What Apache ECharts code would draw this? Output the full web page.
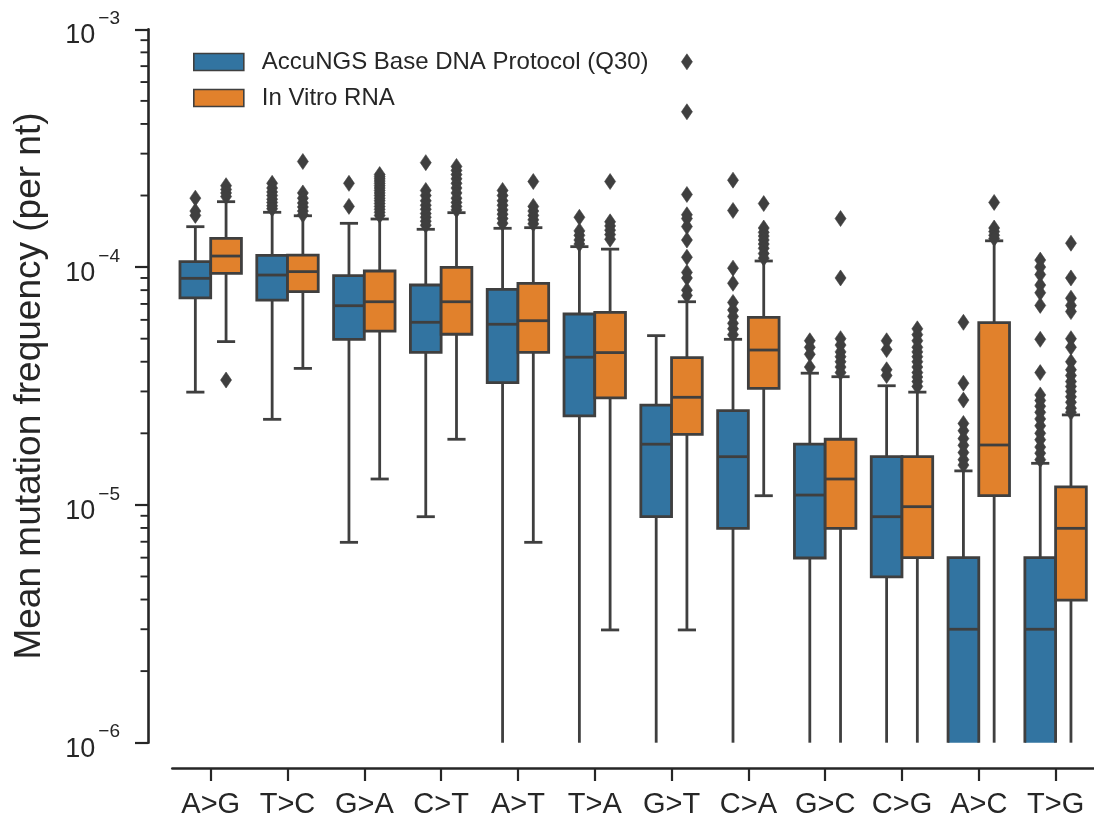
<!DOCTYPE html>
<html>
<head>
<meta charset="utf-8">
<script src="https://cdn.jsdelivr.net/npm/echarts@6/dist/echarts.min.js"></script>
<style>
html,body{margin:0;padding:0;background:#fff;}
#chart{width:1094px;height:822px;}
</style>
</head>
<body>
<div id="chart"></div>
<script>
// ---------- data ----------
const categories = ['A>G','T>C','G>A','C>T','A>T','T>A','G>T','C>A','G>C','C>G','A>C','T>G'];
const seriesNames = ['AccuNGS Base DNA Protocol (Q30)', 'In Vitro RNA'];
// [lower whisker, Q1, median, Q3, upper whisker]; 0 = below the axis (not shown on log scale)
const accuBox = [
  [2.98e-5, 7.43e-5, 8.97e-5, 1.054e-4, 1.479e-4],
  [2.29e-5, 7.27e-5, 9.26e-5, 1.121e-4, 1.70e-4],
  [6.96e-6, 4.97e-5, 6.88e-5, 9.2e-5, 1.528e-4],
  [8.92e-6, 4.38e-5, 5.86e-5, 8.41e-5, 1.442e-4],
  [0, 3.27e-5, 5.75e-5, 8.06e-5, 1.456e-4],
  [0, 2.37e-5, 4.18e-5, 6.35e-5, 1.219e-4],
  [0, 8.92e-6, 1.80e-5, 2.63e-5, 5.15e-5],
  [0, 7.97e-6, 1.595e-5, 2.49e-5, 4.97e-5],
  [0, 5.98e-6, 1.10e-5, 1.80e-5, 3.58e-5],
  [0, 4.98e-6, 8.92e-6, 1.595e-5, 3.17e-5],
  [0, 0, 3.0e-6, 6.0e-6, 1.39e-5],
  [0, 0, 3.0e-6, 6.0e-6, 1.496e-5]
];
const vitroBox = [
  [4.86e-5, 9.41e-5, 1.113e-4, 1.321e-4, 1.884e-4],
  [3.75e-5, 7.88e-5, 9.57e-5, 1.124e-4, 1.644e-4],
  [1.285e-5, 5.38e-5, 7.15e-5, 9.63e-5, 1.593e-4],
  [1.888e-5, 5.22e-5, 7.15e-5, 9.98e-5, 1.694e-4],
  [6.96e-6, 4.38e-5, 5.95e-5, 8.55e-5, 1.465e-4],
  [2.98e-6, 2.82e-5, 4.37e-5, 6.45e-5, 1.19e-4],
  [2.98e-6, 1.98e-5, 2.835e-5, 4.16e-5, 7.15e-5],
  [1.093e-5, 3.09e-5, 4.48e-5, 6.15e-5, 1.061e-4],
  [0, 7.97e-6, 1.285e-5, 1.888e-5, 3.46e-5],
  [0, 6.0e-6, 9.83e-6, 1.595e-5, 2.98e-5],
  [0, 1.093e-5, 1.786e-5, 5.84e-5, 1.29e-4],
  [0, 3.98e-6, 7.97e-6, 1.19e-5, 2.39e-5]
];
const accuOutliers = [
  [1.95e-4, 1.72e-4, 1.65e-4],
  [2.25e-4, 2.15e-4, 2.07e-4, 2.0e-4, 1.93e-4, 1.87e-4, 1.81e-4, 1.76e-4],
  [2.25e-4, 1.8e-4],
  [2.75e-4, 2.1e-4, 2.0e-4, 1.9e-4, 1.82e-4, 1.75e-4, 1.68e-4, 1.62e-4, 1.56e-4, 1.5e-4],
  [2.1e-4, 2.0e-4, 1.9e-4, 1.82e-4, 1.74e-4, 1.67e-4, 1.6e-4, 1.53e-4],
  [1.62e-4, 1.42e-4, 1.36e-4, 1.3e-4, 1.25e-4],
  [],
  [2.32e-4, 1.73e-4, 9.9e-5, 8.55e-5, 7.1e-5, 6.6e-5, 6.2e-5, 5.8e-5, 5.5e-5, 5.2e-5],
  [4.9e-5, 4.6e-5, 4.3e-5, 3.8e-5],
  [4.9e-5, 4.5e-5, 3.7e-5, 3.5e-5],
  [5.86e-5, 3.25e-5, 2.76e-5, 2.2e-5, 2.05e-5, 1.9e-5, 1.78e-5, 1.66e-5, 1.55e-5, 1.47e-5],
  [1.07e-4, 1.0e-4, 9.3e-5, 8.4e-5, 7.8e-5, 6.9e-5, 4.97e-5, 3.6e-5, 2.9e-5, 2.75e-5, 2.6e-5, 2.45e-5, 2.3e-5, 2.15e-5, 2.0e-5, 1.88e-5, 1.75e-5, 1.65e-5, 1.55e-5]
];
const vitroOutliers = [
  [2.2e-4, 2.12e-4, 2.05e-4, 1.98e-4, 3.35e-5],
  [2.78e-4, 2.05e-4, 1.95e-4, 1.86e-4, 1.79e-4, 1.72e-4, 1.66e-4],
  [2.45e-4, 2.4e-4, 2.35e-4, 2.3e-4, 2.25e-4, 2.2e-4, 2.15e-4, 2.1e-4, 2.05e-4, 2.0e-4, 1.95e-4, 1.9e-4, 1.85e-4, 1.8e-4, 1.75e-4, 1.7e-4, 1.65e-4],
  [2.65e-4, 2.55e-4, 2.45e-4, 2.35e-4, 2.25e-4, 2.15e-4, 2.05e-4, 1.95e-4, 1.87e-4, 1.8e-4, 1.74e-4],
  [2.29e-4, 1.8e-4, 1.72e-4, 1.65e-4, 1.58e-4, 1.52e-4],
  [2.29e-4, 1.55e-4, 1.49e-4, 1.43e-4, 1.37e-4, 1.31e-4],
  [7.3e-4, 4.5e-4, 2.02e-4, 1.66e-4, 1.6e-4, 1.48e-4, 1.3e-4, 1.1e-4, 9.5e-5, 9.0e-5, 8.0e-5, 7.6e-5],
  [1.85e-4, 1.46e-4, 1.4e-4, 1.35e-4, 1.3e-4, 1.25e-4, 1.2e-4, 1.14e-4, 1.09e-4],
  [1.6e-4, 9.0e-5, 5.0e-5, 4.7e-5, 4.4e-5, 4.2e-5, 4.0e-5, 3.8e-5, 3.6e-5],
  [5.5e-5, 5.2e-5, 4.9e-5, 4.6e-5, 4.4e-5, 4.2e-5, 4.0e-5, 3.8e-5, 3.6e-5, 3.45e-5, 3.3e-5, 3.15e-5],
  [1.87e-4, 1.46e-4, 1.41e-4, 1.36e-4, 1.32e-4],
  [1.26e-4, 9.0e-5, 7.4e-5, 6.9e-5, 6.5e-5, 5.0e-5, 4.6e-5, 4.0e-5, 3.7e-5, 3.5e-5, 3.3e-5, 3.15e-5, 3.0e-5, 2.85e-5, 2.7e-5, 2.55e-5, 2.45e-5]
];
const yTickExponents = [-6, -5, -4, -3];
const yMinorTicks = [2e-6,3e-6,4e-6,5e-6,6e-6,7e-6,8e-6,9e-6,
                     2e-5,3e-5,4e-5,5e-5,6e-5,7e-5,8e-5,9e-5,
                     2e-4,3e-4,4e-4,5e-4,6e-4,7e-4,8e-4,9e-4];
const yTitle = 'Mean mutation frequency (per nt)';

// ---------- style ----------
const BLUE = '#3274a1', ORANGE = '#e1812c', LINE = '#3f3f3f', AXIS = '#262626';
const FONT = '"Liberation Sans", Arial, Helvetica, sans-serif';
const LW = 2.8;
const Y_OFFSET = 24.3;

function boxRenderer(side, fill) {
  return function (params, api) {
    const cs = params.coordSys;
    const bottom = cs.y + cs.height;
    const idx = api.value(0);
    const band = api.size([1, 0])[0];
    const w = band * 0.4;
    const cx = api.coord([idx, 1e-4])[0] + side * w / 2;
    const Y = v => (v > 0 ? api.coord([idx, v])[1] : bottom);
    const lo = api.value(1), q1 = api.value(2), med = api.value(3), q3 = api.value(4), hi = api.value(5);
    const yLo = Y(lo), yQ1 = Y(q1), yMed = Y(med), yQ3 = Y(q3), yHi = Y(hi);
    const x0 = cx - w / 2, x1 = cx + w / 2, cw = w / 4 + 1.4;
    const ls = { stroke: LINE, lineWidth: LW, fill: null };
    const ch = [];
    ch.push({ type: 'line', shape: { x1: cx, y1: yQ3, x2: cx, y2: yHi }, style: ls });
    ch.push({ type: 'line', shape: { x1: cx - cw, y1: yHi, x2: cx + cw, y2: yHi }, style: ls });
    if (q1 > 0) {
      ch.push({ type: 'line', shape: { x1: cx, y1: yQ1, x2: cx, y2: yLo }, style: ls });
      if (lo > 0) ch.push({ type: 'line', shape: { x1: cx - cw, y1: yLo, x2: cx + cw, y2: yLo }, style: ls });
      ch.push({ type: 'rect', shape: { x: x0, y: yQ3, width: w, height: yQ1 - yQ3 }, style: { fill: fill, stroke: LINE, lineWidth: LW } });
    } else {
      ch.push({ type: 'rect', shape: { x: x0, y: yQ3, width: w, height: yQ1 - yQ3 }, style: { fill: fill } });
      ch.push({ type: 'polyline', shape: { points: [[x0, yQ1], [x0, yQ3], [x1, yQ3], [x1, yQ1]] }, style: ls });
    }
    ch.push({ type: 'line', shape: { x1: x0, y1: yMed, x2: x1, y2: yMed }, style: ls });
    return { type: 'group', children: ch };
  };
}

function outlierRenderer(side) {
  return function (params, api) {
    const idx = api.value(0);
    const band = api.size([1, 0])[0];
    const w = band * 0.4;
    const p = api.coord([idx, api.value(1)]);
    const cx = p[0] + side * w / 2, cy = p[1];
    return {
      type: 'polygon',
      shape: { points: [[cx, cy - 8], [cx + 5.5, cy], [cx, cy + 8], [cx - 5.5, cy]] },
      style: { fill: LINE, stroke: LINE, lineWidth: 0.6 }
    };
  };
}

function minorTickRenderer(params, api) {
  const cs = params.coordSys;
  const x = cs.x - Y_OFFSET;
  const y = api.coord([0, api.value(1)])[1];
  return { type: 'line', shape: { x1: x - 7.5, y1: y, x2: x, y2: y }, style: { stroke: AXIS, lineWidth: 1.9 } };
}

function flatten(outl) {
  const out = [];
  outl.forEach((vals, i) => vals.forEach(v => out.push([i, v])));
  return out;
}

const chart = echarts.init(document.getElementById('chart'));
chart.setOption({
  animation: false,
  textStyle: { fontFamily: FONT },
  grid: { left: 172.3, top: 29.3, width: 929.4, height: 713.4 },
  legend: {
    left: 193, top: 50, orient: 'vertical', padding: 0,
    itemWidth: 50, itemHeight: 17, itemGap: 12,
    icon: 'rect',
    textStyle: { fontSize: 24, color: AXIS, fontFamily: FONT, padding: [0, 0, 0, 13] },
    data: [
      { name: seriesNames[0], itemStyle: { color: BLUE, borderColor: LINE, borderWidth: 1.6 } },
      { name: seriesNames[1], itemStyle: { color: ORANGE, borderColor: LINE, borderWidth: 1.6 } }
    ]
  },
  xAxis: {
    type: 'category', data: categories, offset: 25.3,
    axisLine: { show: true, lineStyle: { color: AXIS, width: 2.6 } },
    axisTick: { show: true, alignWithLabel: true, length: 13, lineStyle: { color: AXIS, width: 2.2 } },
    axisLabel: { fontSize: 29, color: AXIS, margin: 22, fontFamily: FONT, interval: 0 },
    splitLine: { show: false }
  },
  yAxis: {
    type: 'log', logBase: 10, min: 1e-6, max: 1e-3, offset: Y_OFFSET,
    axisLine: { show: true, lineStyle: { color: AXIS, width: 2.6 } },
    axisTick: { show: true, length: 13, lineStyle: { color: AXIS, width: 2.2 } },
    minorTick: { show: false },
    splitLine: { show: false },
    axisLabel: {
      margin: 28, color: AXIS,
      formatter: function (v) {
        const e = Math.round(Math.log10(v));
        if (yTickExponents.indexOf(e) < 0) return '';
        return '{b|10}{s|\u2212' + (-e) + '}';
      },
      rich: {
        b: { fontSize: 27, color: AXIS, fontFamily: FONT, verticalAlign: 'bottom', lineHeight: 40 },
        s: { fontSize: 19, color: AXIS, fontFamily: FONT, verticalAlign: 'top', lineHeight: 40, padding: [0, 0, 0, 3] }
      }
    },
    name: yTitle, nameLocation: 'middle', nameRotate: 90, nameGap: 100,
    nameTextStyle: { fontSize: 37, color: AXIS, fontFamily: FONT }
  },
  series: [
    { type: 'custom', name: seriesNames[0], renderItem: boxRenderer(-1, BLUE),
      itemStyle: { color: BLUE, borderColor: LINE, borderWidth: 1.6 },
      encode: { x: 0, y: 3 }, data: accuBox.map((b, i) => [i].concat(b)), z: 2 },
    { type: 'custom', name: seriesNames[1], renderItem: boxRenderer(1, ORANGE),
      itemStyle: { color: ORANGE, borderColor: LINE, borderWidth: 1.6 },
      encode: { x: 0, y: 3 }, data: vitroBox.map((b, i) => [i].concat(b)), z: 2 },
    { type: 'custom', name: 'accu-outliers', renderItem: outlierRenderer(-1),
      encode: { x: 0, y: 1 }, data: flatten(accuOutliers), z: 3, silent: true },
    { type: 'custom', name: 'vitro-outliers', renderItem: outlierRenderer(1),
      encode: { x: 0, y: 1 }, data: flatten(vitroOutliers), z: 3, silent: true },
    { type: 'custom', name: 'minor-ticks', renderItem: minorTickRenderer,
      encode: { x: 0, y: 1 }, data: yMinorTicks.map(v => [0, v]), z: 1, silent: true }
  ]
});
</script>
</body>
</html>
